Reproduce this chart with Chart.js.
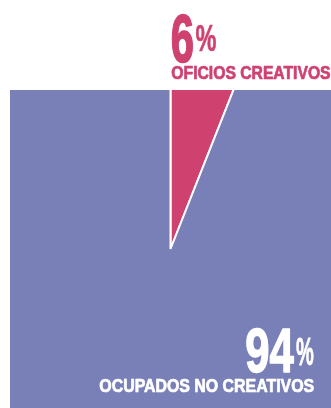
<!DOCTYPE html>
<html>
<head>
<meta charset="utf-8">
<script src="https://cdn.jsdelivr.net/npm/chart.js@4.4.1/dist/chart.umd.min.js"></script>
<style>
  html, body { margin: 0; padding: 0; background: #ffffff; }
  #wrap { width: 331px; height: 408px; }
</style>
</head>
<body>
<div id="wrap"><canvas id="c" width="331" height="408"></canvas></div>
<script>
// Share of employment: creative trades vs. the rest
const categories = ['Oficios creativos', 'Ocupados no creativos'];
const shares = [6, 94];
const sliceColors = ['#cf4270', '#7980b8'];
const labelColors = ['#cf4270', '#ffffff'];

// Draws a string stretched so its ink fills the box [x0,x1] x [yTop,yBottom]
function fitText(ctx, text, x0, x1, yTop, yBottom, color, weight) {
  ctx.save();
  ctx.font = 'bold 100px "Liberation Sans", Arial, sans-serif';
  ctx.textBaseline = 'alphabetic';
  ctx.textAlign = 'left';
  const m = ctx.measureText(text);
  const inkW = m.actualBoundingBoxLeft + m.actualBoundingBoxRight;
  const inkH = m.actualBoundingBoxAscent + m.actualBoundingBoxDescent;
  const sx = (x1 - x0) / inkW;
  const sy = (yBottom - yTop) / inkH;
  ctx.translate(x0 + m.actualBoundingBoxLeft * sx, yTop + m.actualBoundingBoxAscent * sy);
  ctx.scale(sx, sy);
  ctx.fillStyle = color;
  ctx.fillText(text, 0, 0);
  if (weight) {
    // thicken the compressed strokes a little
    ctx.strokeStyle = color;
    ctx.lineWidth = weight / sx;
    ctx.lineJoin = 'round';
    ctx.strokeText(text, 0, 0);
  }
  ctx.restore();
}

const labelPlugin = {
  id: 'shareLabels',
  afterDraw(chart) {
    const ctx = chart.ctx;
    const a = chart.chartArea;
    const right = chart.width;
    const bottom = chart.height;
    const cx = chart.getDatasetMeta(0).data[0].x;
    // small slice: label above the plot, starting at the slice apex column
    fitText(ctx, String(shares[0]), cx + 1.5, cx + 22, a.top - 76, a.top - 27.5, labelColors[0], 1);
    fitText(ctx, '%', cx + 25.5, cx + 45.5, a.top - 65, a.top - 38.5, labelColors[0], 0.4);
    fitText(ctx, categories[0].toUpperCase(), cx + 1.5, right - 1, a.top - 23, a.top - 10.5, labelColors[0], 0.6);
    // large slice: label in the lower right corner
    fitText(ctx, String(shares[1]), right - 84.5, right - 37, bottom - 80, bottom - 35.5, labelColors[1], 1);
    fitText(ctx, '%', right - 34.5, right - 17.5, bottom - 70, bottom - 43, labelColors[1], 0.4);
    fitText(ctx, categories[1].toUpperCase(), a.left + 90, right - 17.5, bottom - 28.5, bottom - 16, labelColors[1], 0.6);
  }
};

new Chart(document.getElementById('c'), {
  type: 'pie',
  data: {
    labels: categories,
    datasets: [{
      data: shares,
      backgroundColor: sliceColors,
      borderColor: '#ffffff',
      borderWidth: 2,
      radius: 1200,
      clip: 0
    }]
  },
  options: {
    responsive: false,
    animation: false,
    layout: { padding: { top: 90, left: 10, right: 0, bottom: -3 } },
    plugins: {
      legend: { display: false },
      tooltip: { enabled: false }
    },
    events: []
  },
  plugins: [labelPlugin]
});
</script>
</body>
</html>
